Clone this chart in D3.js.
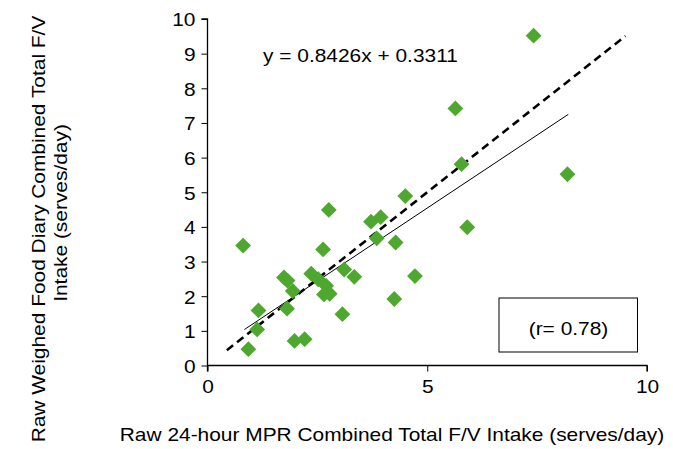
<!DOCTYPE html>
<html><head><meta charset="utf-8">
<script src="https://cdn.jsdelivr.net/npm/d3@7"></script>
<style>body{margin:0;background:#fff}svg{display:block}text{font-family:"Liberation Sans",Arial,sans-serif;fill:#000}</style>
</head><body>
<svg id="c" width="673" height="449"></svg>
<script>
const xValues=[0.81,2.76,4.50,3.72,3.94,3.85,4.28,2.63,1.74,1.82,2.36,2.52,3.11,3.34,2.70,2.65,2.78,1.94,1.81,1.16,1.13,0.93,1.98,2.21,3.07,4.25,4.72,7.42,5.64,5.78,8.19,5.91];
const yValues=[3.46,4.49,4.89,4.15,4.28,3.67,3.55,3.35,2.54,2.45,2.65,2.49,2.77,2.56,2.30,2.05,2.07,2.15,1.64,1.59,1.04,0.47,0.71,0.76,1.48,1.92,2.58,9.52,7.42,5.81,5.52,3.99];
const xTicks=[0,5,10];
const yTicks=[0,1,2,3,4,5,6,7,8,9,10];
const slope=0.8426, intercept=0.3311;
const identityX=[0.44,9.51];
const equationLabel="y = 0.8426x + 0.3311";
const rLabel="(r= 0.78)";
const xTitle="Raw 24-hour MPR Combined Total F/V Intake (serves/day)";
const yTitle=["Raw Weighed Food Diary Combined Total F/V","Intake (serves/day)"];

const svg=d3.select("#c");
const x=d3.scaleLinear().domain([0,10]).range([207.5,647]);
const y=d3.scaleLinear().domain([0,10]).range([365.5,19]);
const FS=19, STRETCH=1.1;
function stretch(sel){sel.each(function(){const l=this.getComputedTextLength();this.setAttribute("textLength",l*STRETCH);this.setAttribute("lengthAdjust","spacingAndGlyphs");});}

// axes
const gx=svg.append("g").attr("transform",`translate(0,${y(0)})`)
 .call(d3.axisBottom(x).tickValues(xTicks).tickSize(6).tickPadding(5).tickFormat(d3.format("d")));
const gy=svg.append("g").attr("transform",`translate(${x(0)},0)`)
 .call(d3.axisLeft(y).tickValues(yTicks).tickSize(6).tickPadding(6).tickFormat(d3.format("d")));
[gx,gy].forEach(g=>{g.select(".domain").attr("stroke","#000").attr("stroke-width",1.3);
 g.selectAll(".tick line").attr("stroke","#000").attr("stroke-width",1);
 g.selectAll("text").attr("font-family","Liberation Sans, Arial, sans-serif").attr("font-size",FS).attr("fill","#000");});
gx.select(".domain").attr("d",`M${x(0)},0H${x(10)}V6`);
gy.select(".domain").attr("d",`M-6,${y(10)}H0V${y(0)+6}`);
gx.selectAll("text").attr("dy","0.85em");
gy.selectAll("text").attr("dy","0.36em");
stretch(gx.selectAll("text"));stretch(gy.selectAll("text"));

// identity dashed line
svg.append("line").attr("x1",x(identityX[0])).attr("y1",y(identityX[0]))
 .attr("x2",x(identityX[1])).attr("y2",y(identityX[1]))
 .attr("stroke","#000").attr("stroke-width",2.6).attr("stroke-dasharray","8,5");
// regression line
const xmin=d3.min(xValues)+0.03,xmax=d3.max(xValues)+0.02;
svg.append("line").attr("x1",x(xmin)).attr("y1",y(slope*xmin+intercept))
 .attr("x2",x(xmax)).attr("y2",y(slope*xmax+intercept))
 .attr("stroke","#000").attr("stroke-width",1);

// points
svg.append("g").selectAll("path").data(xValues.map((v,i)=>[v,yValues[i]])).join("path")
 .attr("d",d3.symbol().type(d3.symbolSquare).size(125))
 .attr("transform",d=>`translate(${x(d[0])},${y(d[1])}) rotate(45)`)
 .attr("fill","#4EA72E");

// equation
svg.append("text").attr("x",263).attr("y",62).attr("font-size",FS).text(equationLabel).call(stretch);

// r box
svg.append("rect").attr("x",499).attr("y",298).attr("width",138.5).attr("height",54)
 .attr("fill","#fff").attr("stroke","#000").attr("stroke-width",1);
svg.append("text").attr("x",568.5).attr("y",335).attr("text-anchor","middle").attr("font-size",FS).text(rLabel).call(stretch);

// titles
svg.append("text").attr("x",392).attr("y",441).attr("text-anchor","middle").attr("font-size",FS).text(xTitle).call(stretch);
svg.append("text").attr("transform","translate(45,229) rotate(-90)").attr("text-anchor","middle").attr("font-size",FS).text(yTitle[0]).call(stretch);
svg.append("text").attr("transform","translate(67,213) rotate(-90)").attr("text-anchor","middle").attr("font-size",FS).text(yTitle[1]).call(stretch);
</script>
</body></html>
